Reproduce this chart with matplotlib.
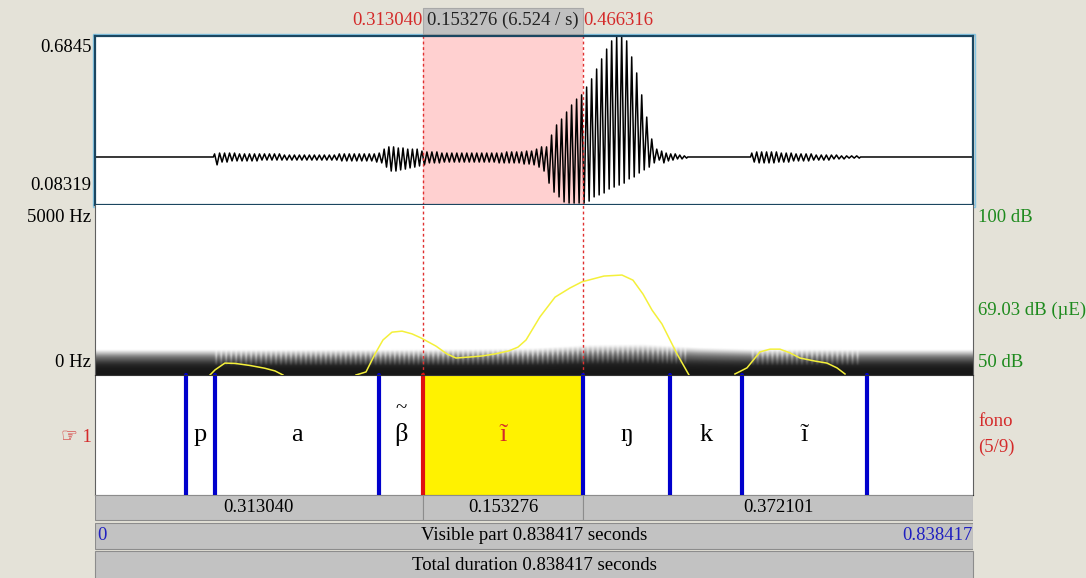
import matplotlib.pyplot as plt
from matplotlib.patches import Rectangle
import matplotlib.transforms as mtransforms
import numpy as np

total_dur = 0.838417
sel_start = 0.313040
sel_end = 0.466316

# waveform: voiced stretches (start, end) and peak heights per cycle (x 0.001)
wave_base = 0.254
wave_segs = [(0.113, 0.275), (0.275, 0.311), (0.311, 0.430), (0.430, 0.540),
             (0.540, 0.566), (0.626, 0.673), (0.673, 0.731)]
up_1 = [11, 14, 14, 14, 14, 11, 11, 11, 11, 11, 11, 11, 11, 11, 7, 7, 7, 7, 7, 7,
        7, 7, 7, 7, 7, 11, 11, 11, 11, 11, 11, 11, 11, 14]
lo_1 = [28, 18, 18, 14, 14, 14, 14, 14, 14, 11, 11, 11, 11, 11, 11, 11, 11, 11, 11, 11,
        11, 11, 11, 11, 11, 14, 14, 14, 14, 14, 14, 14, 18, 21]
up_2 = [28, 36, 36, 32, 32, 28, 28, 28]
lo_2 = [36, 50, 50, 46, 43, 39, 36, 32]
up_3 = [21, 18, 18, 18, 14, 14, 14, 14, 14, 14, 14, 14, 14, 14, 14, 14, 14, 18, 18, 18,
        18, 21, 21, 28, 36]
lo_3 = [28, 21, 21, 21, 18, 18, 18, 18, 18, 18, 18, 18, 18, 18, 18, 21, 21, 21, 21, 21,
        25, 25, 28, 36, 50]
up_4 = [36, 78, 114, 135, 160, 185, 206, 221, 249, 278, 313, 349, 384, 413, 427, 427,
        413, 356, 299, 221, 142, 64, 28]
lo_4 = [93, 125, 142, 160, 164, 164, 164, 164, 157, 142, 135, 128, 114, 107, 100, 93,
        78, 71, 57, 46, 36, 21, 11]
up_5 = [21, 14, 11, 11, 7, 4]
lo_5 = [21, 14, 11, 7, 7, 4]
up_6 = [14, 18, 18, 18, 18, 18, 14, 14, 14, 11]
lo_6 = [18, 21, 21, 21, 21, 18, 18, 18, 14, 14]
up_7 = [11, 11, 11, 7, 7, 7, 7, 7, 4, 4, 4, 4]
lo_7 = [14, 14, 11, 11, 11, 11, 7, 7, 7, 4, 4, 4]
wave_up = [up_1, up_2, up_3, up_4, up_5, up_6, up_7]
wave_lo = [lo_1, lo_2, lo_3, lo_4, lo_5, lo_6, lo_7]

# intensity contour (dB), three voiced humps
int_t1 = [0.1098, 0.1146, 0.1240, 0.1340, 0.1480, 0.1620, 0.1719, 0.1795]
int_db1 = [50.0, 51.5, 53.5, 53.4, 52.8, 52.0, 51.2, 50.0]
int_t2 = [0.2492, 0.2588, 0.2674, 0.2750, 0.2836, 0.2932, 0.3027, 0.3113, 0.3256, 0.3361,
          0.3447, 0.3581, 0.3696, 0.3820, 0.3953, 0.4039, 0.4116, 0.4249, 0.4393, 0.4536,
          0.4650, 0.4860, 0.5032, 0.5137, 0.5233, 0.5319, 0.5414, 0.5558, 0.5672]
int_db2 = [50.0, 50.9, 56.2, 60.3, 62.6, 62.9, 62.1, 60.9, 58.5, 56.2,
           55.0, 55.3, 55.6, 56.2, 57.1, 58.2, 60.3, 67.1, 72.9, 75.6,
           77.4, 79.1, 79.4, 77.9, 73.8, 69.1, 65.0, 56.2, 50.0]
int_t3 = [0.6111, 0.6226, 0.6350, 0.6446, 0.6541, 0.6637, 0.6732, 0.6875, 0.6990, 0.7085, 0.7162]
int_db3 = [50.3, 52.1, 56.8, 57.6, 57.6, 56.5, 55.0, 54.1, 53.5, 52.1, 50.3]

# low-frequency energy band top (Hz), one value per 0.05 s column
band_top_hz = [760, 760, 760, 760, 760, 760, 770, 780, 800, 900, 920, 820, 770, 770, 760, 760, 760]

# text tier
tier_bounds = [0.0869, 0.1146, 0.2712, 0.313040, 0.466316, 0.5491, 0.6178, 0.7372]
tier_labels = ["", "p", "a", "\u03b2", "\u0129", "\u014b", "k", "\u0129", ""]
tier_tilde = [False, False, False, True, False, False, False, False, False]
sel_index = 4

bg = "#e4e2d8"
red = "#d42a2a"
green = "#1d8a1d"
blue = "#2020c0"
fs = 13.5

plt.rcParams["font.family"] = ["Liberation Serif", "DejaVu Sans"]

fig = plt.figure(figsize=(10.86, 5.78), dpi=100, facecolor=bg)


def box(x0, y0, x1, y1):
    return [x0 / 1086, 1 - y1 / 578, (x1 - x0) / 1086, (y1 - y0) / 578]


ax_wave = fig.add_axes(box(95, 36, 973, 205))
ax_spec = fig.add_axes(box(95, 205, 973, 375))
ax_tier = fig.add_axes(box(95, 375, 973, 495))
ax_bar = fig.add_axes(box(95, 495, 973, 578))
for ax in (ax_wave, ax_spec, ax_tier, ax_bar):
    ax.set_xlim(0, total_dur)
    ax.set_xticks([])
    ax.set_yticks([])

# ---- waveform
wt = [0.0]
wy = [wave_base]
pulses = []
for (t0, t1), up, lo in zip(wave_segs, wave_up, wave_lo):
    dt = (t1 - t0) / len(up)
    wt.append(t0)
    wy.append(wave_base)
    for i in range(len(up)):
        wt += [t0 + (i + 0.25) * dt, t0 + (i + 0.75) * dt]
        wy += [wave_base + up[i] / 1000, wave_base - lo[i] / 1000]
        pulses.append((t0 + i * dt, dt))
    wt.append(t1)
    wy.append(wave_base)
wt.append(total_dur)
wy.append(wave_base)

ax_wave.set_ylim(0.08319, 0.6845)
ax_wave.axvspan(sel_start, sel_end, color="#ffd0d0", lw=0)
ax_wave.plot(wt, wy, color="black", lw=1.1)
for s in ax_wave.spines.values():
    s.set_color("#1b4660")
    s.set_linewidth(1.6)
ax_wave.add_patch(Rectangle((-0.002, -0.01), 1.004, 1.02, transform=ax_wave.transAxes,
                            fill=False, ec="#86c8e6", lw=1.0, clip_on=False))

ax_wave.text(-0.004, 0.929, "0.6845", transform=ax_wave.transAxes, ha="right", va="center", fontsize=fs)
ax_wave.text(-0.004, 0.118, "0.08319", transform=ax_wave.transAxes, ha="right", va="center", fontsize=fs)

# header above waveform
trans = mtransforms.blended_transform_factory(ax_wave.transData, ax_wave.transAxes)
ax_wave.add_patch(Rectangle((sel_start, 1.01), sel_end - sel_start, 0.155, transform=trans,
                            fc="#c0c0c0", ec="#a8a8a8", lw=0.8, clip_on=False))
ax_wave.text(sel_start, 1.09, "%.6f" % sel_start, transform=trans, ha="right", va="center",
             fontsize=fs, color=red)
ax_wave.text((sel_start + sel_end) / 2, 1.09, "%.6f (%.3f / s)" % (sel_end - sel_start, 1 / (sel_end - sel_start)),
             transform=trans, ha="center", va="center", fontsize=fs, color="#222222")
ax_wave.text(sel_end, 1.09, "%.6f" % sel_end, transform=trans, ha="left", va="center",
             fontsize=fs, color=red)

# ---- spectrogram band (+ glottal striations in voiced parts) and intensity
ncol = 880
tgrid = np.linspace(0, total_dur, ncol)
col_t = np.linspace(0, total_dur, len(band_top_hz))
tops = np.interp(tgrid, col_t, band_top_hz)
freqs = np.linspace(0, 1000, 60)
rel = freqs[:, None] / tops[None, :]
dark = 0.92 * np.clip(1 - rel ** 3, 0, 1)
stripe = np.ones(ncol)
for p0, pdt in pulses:
    m = (tgrid >= p0) & (tgrid < p0 + pdt)
    stripe[m] = 0.55 + 0.45 * np.abs(np.cos(np.pi * (tgrid[m] - p0) / pdt))
upper = np.clip((rel - 0.35) / 0.4, 0, 1)
dark = dark * (1 - upper * (1 - stripe[None, :]))
ax_spec.imshow(dark, origin="lower", aspect="auto", cmap="Greys", vmin=0, vmax=1,
               extent=(0, total_dur, 0, 1000), interpolation="bilinear")
ax_spec.set_xlim(0, total_dur)
ax_spec.set_ylim(0, 5000)
for side in ("top", "bottom"):
    ax_spec.spines[side].set_visible(False)
for side in ("left", "right"):
    ax_spec.spines[side].set_color("#606060")
ax_spec.text(-0.004, 0.929, "5000 Hz", transform=ax_spec.transAxes, ha="right", va="center", fontsize=fs)
ax_spec.text(-0.004, 0.076, "0 Hz", transform=ax_spec.transAxes, ha="right", va="center", fontsize=fs)

ax_db = ax_spec.twinx()
ax_db.set_ylim(50, 100)
ax_db.set_yticks([])
for s in ax_db.spines.values():
    s.set_visible(False)
for tt, dd in ((int_t1, int_db1), (int_t2, int_db2), (int_t3, int_db3)):
    ax_db.plot(tt, dd, color="#f4f03a", lw=1.1)
ax_db.text(1.006, 0.929, "100 dB", transform=ax_db.transAxes, ha="left", va="center", fontsize=fs, color=green)
ax_db.text(1.006, 69.03, "69.03 dB (\u00b5E)", transform=ax_db.get_yaxis_transform(),
           ha="left", va="center", fontsize=fs, color=green)
ax_db.text(1.006, 0.076, "50 dB", transform=ax_db.transAxes, ha="left", va="center", fontsize=fs, color=green)

for ax in (ax_wave, ax_spec):
    for t in (sel_start, sel_end):
        ax.axvline(t, color="#e03030", lw=1.0, dashes=(2, 2))

# ---- tier
edges = [0.0] + tier_bounds + [total_dur]
ax_tier.set_ylim(0, 1)
ax_tier.axvspan(edges[sel_index], edges[sel_index + 1], color="#fff200", lw=0)
for t in tier_bounds:
    if t == sel_start:
        ax_tier.plot([t, t], [0, 1], color="#e01010", lw=3.0, solid_capstyle="round", clip_on=False)
    else:
        ax_tier.plot([t, t], [-0.02, 1], color="#0000cc", lw=3.0, solid_capstyle="round", clip_on=False)
for i, lab in enumerate(tier_labels):
    xc = (edges[i] + edges[i + 1]) / 2
    col = red if i == sel_index else "black"
    ax_tier.text(xc, 0.5, lab, ha="center", va="center", fontsize=19, color=col)
    if tier_tilde[i]:
        ax_tier.text(xc, 0.72, "~", ha="center", va="center", fontsize=15, color=col)
for side in ("top", "bottom"):
    ax_tier.spines[side].set_color("#333333")
for side in ("left", "right"):
    ax_tier.spines[side].set_color("#606060")
ax_tier.text(-0.004, 0.483, "\u261e 1", transform=ax_tier.transAxes, ha="right", va="center",
             fontsize=fs, color=red)
ax_tier.text(1.006, 0.61, "fono", transform=ax_tier.transAxes, ha="left", va="center", fontsize=fs, color=red)
ax_tier.text(1.006, 0.40, "(5/9)", transform=ax_tier.transAxes, ha="left", va="center", fontsize=fs, color=red)

# ---- duration bars
ax_bar.set_ylim(3.0, 0)
ax_bar.set_facecolor(bg)
for s in ax_bar.spines.values():
    s.set_visible(False)
row1 = [0.0, sel_start, sel_end, total_dur]
for a, b in zip(row1[:-1], row1[1:]):
    ax_bar.add_patch(Rectangle((a, 0.0), b - a, 0.92, fc="#c2c2c2", ec="#8c8c8c", lw=0.8))
    ax_bar.text((a + b) / 2, 0.46, "%.6f" % (b - a), ha="center", va="center", fontsize=fs)
ax_bar.add_patch(Rectangle((0, 1.0), total_dur, 0.95, fc="#c2c2c2", ec="#8c8c8c", lw=0.8))
ax_bar.text(0.002, 1.47, "0", ha="left", va="center", fontsize=fs, color=blue)
ax_bar.text(total_dur / 2, 1.47, "Visible part %.6f seconds" % total_dur, ha="center", va="center", fontsize=fs)
ax_bar.text(total_dur, 1.47, "%.6f" % total_dur, ha="right", va="center", fontsize=fs, color=blue)
ax_bar.add_patch(Rectangle((0, 2.03), total_dur, 1.1, fc="#c2c2c2", ec="#8c8c8c", lw=0.8, clip_on=False))
ax_bar.text(total_dur / 2, 2.55, "Total duration %.6f seconds" % total_dur, ha="center", va="center", fontsize=fs)

fig.savefig("out.png", dpi=100, facecolor=bg)
